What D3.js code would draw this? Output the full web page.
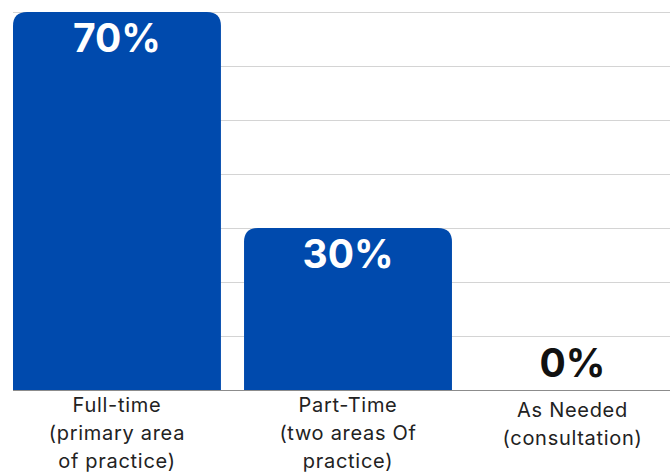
<!DOCTYPE html>
<html>
<head>
<meta charset="utf-8">
<script src="https://cdn.jsdelivr.net/npm/d3@7"></script>
<style>
  html, body { margin: 0; padding: 0; background: #fff; }
  svg { display: block; }
</style>
</head>
<body>
<script>
document.body.style.overflow = 'hidden';

const categories = [
    ["Full-time", "(primary area", "of practice)"],
    ["Part-Time", "(two areas Of", "practice)"],
    ["As Needed", "(consultation)"]
];
const values = [70, 30, 0];
const gridTicks = [0, 10, 20, 30, 40, 50, 60, 70];

const width = 670, height = 474;
const margin = {top: 12, left: 13, bottom: 84};
const barColor = '#004AAD';
const font = 'Inter, "Open Sans", sans-serif';

const svg = d3.select("body").append("svg")
    .attr("width", width)
    .attr("height", height);

const xScale = d3.scaleBand()
    .domain(d3.range(categories.length))
    .range([margin.left, margin.left + 3 * 231 - 23])
    .paddingInner(0.1)
    .paddingOuter(0);

const yScale = d3.scaleLinear()
    .domain([0, 70])
    .range([height - margin.bottom, margin.top]);

// gridlines
svg.append("g")
    .attr('class', 'grid')
    .selectAll("line")
    .data(gridTicks)
    .enter().append("line")
    .attr("x1", margin.left)
    .attr("x2", width)
    .attr("y1", d => Math.round(yScale(d)) + 0.5)
    .attr("y2", d => Math.round(yScale(d)) + 0.5)
    .attr("stroke", d => d === 0 ? '#8c8c8c' : '#d4d4d4')
    .attr("stroke-width", 1);

// bar with rounded top corners only
function barPath(x, y, w, h, r) {
    r = Math.min(r, h, w / 2);
    if (h <= 0) return "";
    return "M" + x + "," + (y + h)
        + "V" + (y + r)
        + "Q" + x + "," + y + " " + (x + r) + "," + y
        + "H" + (x + w - r)
        + "Q" + (x + w) + "," + y + " " + (x + w) + "," + (y + r)
        + "V" + (y + h) + "Z";
}

const bars = svg.selectAll('g.box')
    .data(values.map((v, i) => ({v: v, i: i})))
    .enter().append('g')
    .attr('class', 'box');

bars.append('path')
    .attr("fill", barColor)
    .attr("d", d => barPath(xScale(d.i), yScale(d.v), xScale.bandwidth(), yScale(0) - yScale(d.v), 14));

function labelX(i) {
    const x0 = xScale(i);
    const x1 = Math.min(x0 + xScale.bandwidth(), width);
    return (x0 + x1) / 2;
}

bars.append('text')
    .attr("x", d => labelX(d.i))
    .attr("y", d => d.v > 0 ? yScale(d.v) + 40 : yScale(0) - 13)
    .attr("text-anchor", "middle")
    .attr("fill", d => d.v > 0 ? '#ffffff' : '#111111')
    .style('font-family', font)
    .style('font-weight', '700')
    .style('font-size', '39px')
    .text(d => d.v + '%');

// category labels
const labels = svg.append("g").attr('class', 'xlabels');
categories.forEach((lines, i) => {
    const t = labels.append('text')
        .attr("x", labelX(i))
        .attr("y", yScale(0) + (lines.length === 2 ? 27 : 22))
        .attr("text-anchor", "middle")
        .attr("fill", '#222')
        .style('font-family', font)
        .style('font-weight', '400')
        .style('font-size', '20px')
        .style('letter-spacing', '0.7px');
    lines.forEach((line, k) => {
        t.append('tspan')
            .attr("x", labelX(i))
            .attr("dy", k === 0 ? 0 : 28)
            .text(line);
    });
});
</script>
</body>
</html>
